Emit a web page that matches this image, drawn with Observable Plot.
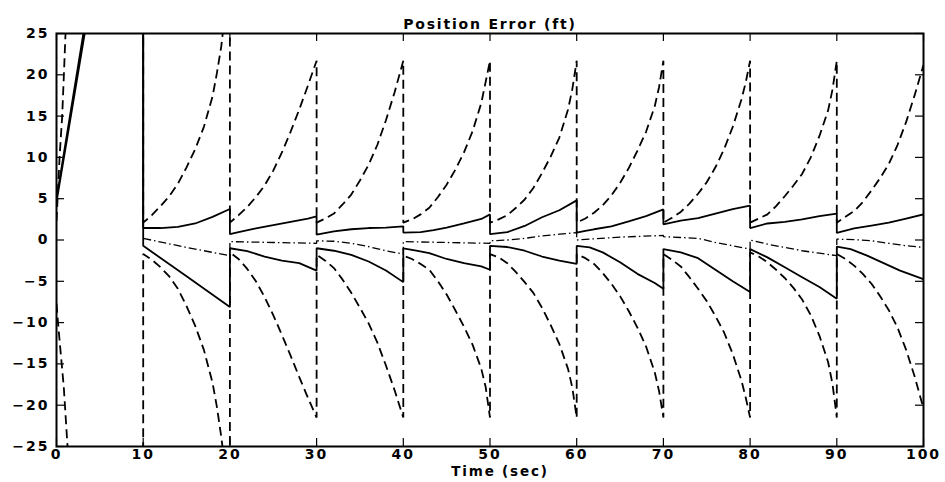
<!DOCTYPE html>
<html>
<head>
<meta charset="utf-8">
<script src="https://cdn.jsdelivr.net/npm/d3@7"></script>
<script src="https://cdn.jsdelivr.net/npm/@observablehq/plot@0.6"></script>
<style>
  html, body { margin: 0; padding: 0; background: #fff; }
  #chart svg { display: block; }
  #chart g[aria-label="y-axis tick label"] text,
  #chart g[aria-label="x-axis tick label"] text { letter-spacing: 2px; }
  #chart g[aria-label="text"] text { letter-spacing: 1.8px; }
</style>
</head>
<body>
<div id="chart"></div>
<script>
// ---- Tick labels / texts ----
const xTicks = [0, 10, 20, 30, 40, 50, 60, 70, 80, 90, 100];
const yTicks = [-25, -20, -15, -10, -5, 0, 5, 10, 15, 20, 25];
const titleText = ["Position Error (ft)"];
const xLabelText = ["Time (sec)"];

// ---- Series values: [time (sec), error (ft)] ----
// solid upper bound
const solidUpper = [
  [0,5.0],[3.1,25],[3.6,28],[10,28],
  [10,1.45],[12,1.45],[14,1.6],[16,2.0],[18,2.8],[20,3.75],
  [20,0.7],[21,0.95],[23,1.4],[25,1.8],[27,2.2],[29,2.6],[30,2.85],
  [30,0.65],[32,1.05],[34,1.3],[36,1.45],[38,1.5],[40,1.65],
  [40,0.9],[42,0.95],[43.5,1.2],[45,1.5],[47,2.0],[49,2.55],[50,3.1],
  [50,0.7],[52,0.95],[54,1.7],[56,2.75],[58,3.6],[60,4.8],
  [60,0.9],[61,1.1],[62,1.3],[64,1.65],[66,2.25],[68,2.9],[70,3.7],
  [70,1.9],[72,2.35],[74,2.65],[76,3.2],[78,3.75],[80,4.15],
  [80,1.45],[82,2.0],[84,2.2],[86,2.5],[88,2.9],[90,3.2],
  [90,0.85],[92,1.4],[94,1.75],[96,2.1],[98,2.6],[100,3.1]
];
// solid lower bound
const solidLower = [
  [0,4.6],[3.25,25],[3.8,28],[10,28],
  [10,-0.7],[15,-4.4],[20,-8.1],
  [20,-1.0],[22,-1.35],[24,-2.0],[26,-2.5],[28,-2.8],[30,-3.7],
  [30,-1.0],[32,-1.3],[34,-1.8],[36,-2.6],[38,-3.7],[40,-5.1],
  [40,-1.0],[41.5,-1.3],[43,-1.6],[45,-2.3],[47,-2.8],[49,-3.2],[50,-3.6],
  [50,-0.7],[52,-0.85],[54,-1.3],[56,-2.0],[58,-2.5],[60,-2.9],
  [60,-0.7],[61.5,-0.9],[63,-1.5],[65,-2.7],[67,-4.1],[69,-5.2],[70,-5.9],
  [70,-1.1],[72,-1.5],[74,-2.2],[76,-3.6],[78,-5.0],[80,-6.3],
  [80,-1.1],[82,-2.1],[84,-3.3],[86,-4.5],[88,-5.7],[90,-7.1],
  [90,-0.8],[91.6,-1.1],[93.5,-1.9],[95.4,-2.8],[97.3,-3.7],[100,-4.75]
];
// dash-dot estimate
const dashDot = [
  [10,0.2],[15,-0.9],[20,-1.9],
  [20,-0.2],[25,-0.3],[30,-0.4],
  [30,-0.1],[32,-0.15],[34,-0.4],[36,-0.8],[38,-1.3],[40,-1.7],
  [40,-0.2],[45,-0.3],[50,-0.4],
  [50,-0.1],[52,0.0],[54,0.2],[56,0.5],[58,0.7],[60,0.9],
  [60,0.0],[65,0.35],[70,0.55],
  [70,0.4],[72,0.3],[74,0.2],[76,-0.3],[78,-0.7],[80,-1.1],
  [80,0.0],[82,-0.5],[84,-0.9],[86,-1.3],[88,-1.6],[90,-1.9],
  [90,0.1],[92,0.05],[94,-0.1],[96,-0.4],[98,-0.7],[100,-0.9]
];
// dashed upper envelope
const dashUpper = [
  [0,2.3],[0.38,10.5],[0.65,14.9],[0.84,19.7],[1.04,25],[1.3,30],[10,30],
  [10,2.1],[11,3.0],[12,4.1],[13,5.3],[14,6.8],[15,8.8],[16,11.0],[17,13.7],[18,17.4],[18.5,20.2],[19,23.4],[19.5,28],[20,33],
  [20,2.1],[21,3.0],[22,4.0],[23,5.2],[24,6.6],[25,8.4],[26,10.6],[27,13.1],[28,15.8],[29,18.7],[30,21.7],
  [30,2.1],[31,2.6],[32,3.2],[33,4.3],[34,5.5],[35,7.2],[36,9.1],[37,11.5],[38,14.5],[39,17.9],[40,21.7],
  [40,2.1],[41,2.5],[42,3.1],[43,3.9],[44,5.2],[45,6.7],[46,8.5],[47,10.6],[48,13.2],[49,16.6],[50,21.7],
  [50,2.1],[51,2.5],[52,3.0],[53,3.9],[54,4.9],[55,6.3],[56,8.1],[57,10.1],[58,12.4],[59,15.8],[59.5,18.3],[60,21.7],
  [60,2.1],[61,2.6],[62,3.3],[63,4.2],[64,5.4],[65,6.9],[66,8.7],[67,10.8],[68,13.1],[69,16.2],[69.5,18.5],[70,21.7],
  [70,2.1],[71,2.7],[72,3.4],[73,4.4],[74,5.6],[75,7.0],[76,8.8],[77,11.0],[78,13.7],[79,17.0],[79.5,19.1],[80,21.7],
  [80,2.1],[81,2.6],[82,3.1],[83,4.1],[84,5.3],[85,6.6],[86,8.0],[87,10.0],[88,12.6],[89,15.7],[89.5,18.2],[90,21.7],
  [90,2.1],[91,2.8],[92,3.5],[93,4.6],[94,6.0],[95,7.5],[96,9.2],[97,11.5],[98,14.3],[99,17.6],[100,21.2]
];
// dashed lower envelope
const dashLower = [
  [0,-7.7],[0.15,-9.7],[0.46,-13.4],[0.84,-17.8],[1.23,-24.3],[1.6,-30],[10,-30],
  [10,-1.7],[11,-2.4],[12,-3.3],[13,-4.4],[14,-5.9],[15,-8.0],[16,-10.4],[17,-13.3],[18,-17.3],[18.5,-20.2],[19,-23.8],[19.5,-28],[20,-33],
  [20,-1.5],[21,-2.3],[22,-3.5],[23,-5.0],[24,-6.9],[25,-9.1],[26,-11.5],[27,-14.0],[28,-16.6],[29,-19.1],[30,-21.5],
  [30,-1.8],[31,-2.5],[32,-3.4],[33,-4.8],[34,-6.4],[35,-8.2],[36,-10.1],[37,-12.4],[38,-15.2],[39,-18.2],[40,-21.5],
  [40,-1.9],[41,-2.3],[42,-2.9],[43,-3.6],[44,-5.0],[45,-6.6],[46,-8.5],[47,-10.5],[48,-12.7],[49,-15.6],[49.5,-17.8],[50,-21.5],
  [50,-1.7],[51,-2.1],[52,-2.8],[53,-3.9],[54,-5.1],[55,-6.4],[56,-8.2],[57,-10.3],[58,-12.6],[59,-15.6],[59.5,-17.9],[60,-21.5],
  [60,-1.7],[61,-2.2],[62,-2.9],[63,-4.0],[64,-5.3],[65,-6.8],[66,-8.6],[67,-10.6],[68,-12.9],[69,-16.0],[69.5,-18.3],[70,-21.5],
  [70,-1.7],[71,-2.4],[72,-3.2],[73,-4.5],[74,-5.9],[75,-7.4],[76,-9.2],[77,-11.2],[78,-13.8],[79,-17.0],[79.5,-19.1],[80,-21.5],
  [80,-1.5],[81,-2.0],[82,-2.7],[83,-3.6],[84,-4.6],[85,-5.8],[86,-7.2],[87,-9.1],[88,-11.6],[89,-14.8],[89.5,-17.4],[90,-21.5],
  [90,-1.7],[91,-2.3],[92,-3.1],[93,-4.1],[94,-5.3],[95,-6.8],[96,-8.5],[97,-10.6],[98,-13.3],[99,-16.6],[100,-20.4]
];

// ---- layout ----
const W = 945, H = 482;
const M = {top: 33, right: 22, bottom: 36, left: 56};
const innerW = W - M.left - M.right;
const innerH = H - M.top - M.bottom;
const tickLen = 8;

const rows = (pts) => pts.map(([t, v]) => ({t, v}));

const lineOpts = {x: "t", y: "v", stroke: "#000", clip: true, strokeLinejoin: "miter", strokeLinecap: "butt"};

const chart = Plot.plot({
  width: W,
  height: H,
  marginTop: M.top,
  marginRight: M.right,
  marginBottom: M.bottom,
  marginLeft: M.left,
  x: {domain: [0, 100]},
  y: {domain: [-25, 25]},
  style: {fontFamily: "'DejaVu Sans', sans-serif", fontSize: "14px", fontWeight: "bold", color: "#000", background: "#fff"},
  marks: [
    Plot.line(rows(dashUpper), {...lineOpts, strokeWidth: 1.8, strokeDasharray: "9,5"}),
    Plot.line(rows(dashLower), {...lineOpts, strokeWidth: 1.8, strokeDasharray: "9,5"}),
    Plot.line(rows(dashDot), {...lineOpts, strokeWidth: 1.3, strokeDasharray: "8,3,1.5,3"}),
    Plot.line(rows(solidUpper), {...lineOpts, strokeWidth: 1.8}),
    Plot.line(rows(solidLower), {...lineOpts, strokeWidth: 1.8}),
    // inward ticks on all four sides
    Plot.tickX(xTicks, {x: d => d, insetTop: innerH - tickLen, stroke: "#000", strokeWidth: 1.2}),
    Plot.tickX(xTicks, {x: d => d, insetBottom: innerH - tickLen, stroke: "#000", strokeWidth: 1.2}),
    Plot.tickY(yTicks, {y: d => d, insetRight: innerW - tickLen, stroke: "#000", strokeWidth: 1.2}),
    Plot.tickY(yTicks, {y: d => d, insetLeft: innerW - tickLen, stroke: "#000", strokeWidth: 1.2}),
    Plot.frame({stroke: "#000", strokeWidth: 2}),
    Plot.axisX({ticks: xTicks, tickSize: 0, tickPadding: 3, label: null, fontSize: 14, fontWeight: "bold"}),
    Plot.axisY({ticks: yTicks, tickSize: 0, tickPadding: 7, label: null, fontSize: 14, fontWeight: "bold"}),
    Plot.text(titleText, {text: d => d, frameAnchor: "top", dy: -14, fontSize: 14, fontWeight: "bold", fill: "#000"}),
    Plot.text(xLabelText, {text: d => d, frameAnchor: "bottom", dx: 10, dy: 29, fontSize: 13.5, fontWeight: "bold", fill: "#000"})
  ]
});
document.getElementById("chart").appendChild(chart);
</script>
</body>
</html>
